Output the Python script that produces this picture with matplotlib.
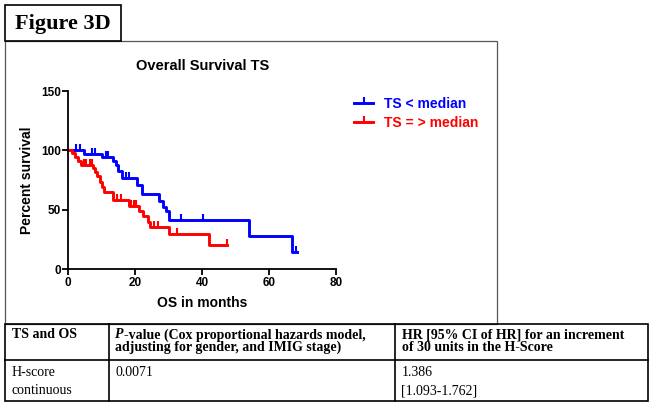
import numpy as np
import matplotlib
matplotlib.use('Agg')
import matplotlib.pyplot as plt
from matplotlib.lines import Line2D
from matplotlib.patches import Rectangle

# Kaplan-Meier steps (months, percent surviving)
blue_time = [0, 4.6, 10.1, 13.3, 14.3, 14.9, 16.0, 20.4, 21.9, 27.0, 28.2, 29.2, 30.0, 54.0, 66.8, 68.3]
blue_surv = [100, 97, 94, 91, 87.5, 83, 77, 70.5, 63, 57, 52.5, 48.5, 41.5, 27.5, 14, 14]
blue_censor = [2.2, 3.6, 7.2, 8.0, 11.2, 12.0, 17.2, 18.2, 33.7, 40.4, 68.0]

red_time = [0, 1.0, 2.0, 3.0, 3.8, 7.4, 8.0, 8.7, 9.4, 10.0, 10.7, 13.4, 18.2, 21.0, 22.2, 23.7, 24.3, 30.0, 41.9, 47.3]
red_surv = [100, 97.5, 94.5, 91, 88, 85.5, 82, 78, 73.5, 69.5, 64.5, 58.5, 53, 48.5, 44.5, 40, 35.5, 29.5, 20.5, 20.5]
red_censor = [4.7, 5.4, 6.4, 7.2, 14.7, 15.7, 18.7, 19.5, 20.2, 25.7, 26.7, 32.5, 47.3]

labels = ['TS < median', 'TS = > median']
colors = ['#0000ff', '#ff0000']

x_ticks = [0, 20, 40, 60, 80]
y_ticks = [0, 50, 100, 150]

# table contents
header = ['TS and OS', '-value (Cox proportional hazards model,', 'HR [95% CI of HR] for an increment']
header2 = ['', 'adjusting for gender, and IMIG stage)', 'of 30 units in the H-Score']
row1 = ['H-score', '0.0071', '1.386']
row2 = ['continuous', '', '[1.093-1.762]']

SANS = ['Liberation Sans', 'DejaVu Sans']
SERIF = ['Liberation Serif', 'DejaVu Serif']
W, H = 654, 407


def surv_at(times, surv, t):
    i = np.searchsorted(times, t, side='right') - 1
    return np.asarray(surv)[i]


fig = plt.figure(figsize=(W / 100, H / 100), dpi=100)

# background layer in pixel coordinates: frames and the table
bg = fig.add_axes([0, 0, 1, 1], zorder=0)
bg.set_xlim(0, W)
bg.set_ylim(H, 0)
bg.axis('off')

bg.add_patch(Rectangle((4.5, 41), 492.5, 283, fill=False, ec='#555555', lw=0.9))
bg.add_patch(Rectangle((5, 5), 116, 36, fill=False, ec='black', lw=1.2))
bg.text(63, 23.5, 'Figure 3D', family=SERIF, weight='bold', fontsize=16,
        ha='center', va='center')

# table grid
tl = dict(color='black', lw=1.2)
bg.add_patch(Rectangle((5, 324), 643, 77, fill=False, ec='black', lw=1.2))
bg.plot([5, 648], [360, 360], **tl)
bg.plot([109, 109], [324, 401], **tl)
bg.plot([395, 395], [324, 401], **tl)

fs = 10
hfont = dict(family=SERIF, weight='bold', fontsize=fs, va='baseline')
bfont = dict(family=SERIF, fontsize=fs, va='baseline')
bg.text(11.5, 338.5, header[0], **hfont)
p = bg.text(115, 338.5, 'P', style='italic', **hfont)
bg.annotate(header[1], xy=(1, 0), xycoords=p, va='bottom',
            family=SERIF, weight='bold', fontsize=fs)
bg.text(115, 351, header2[1], **hfont)
bg.text(401.5, 338.5, header[2], **hfont)
bg.text(401.5, 351, header2[2], **hfont)

bg.text(11.5, 376.5, row1[0], **bfont)
bg.text(11.5, 394.5, row2[0], **bfont)
bg.text(115, 376.5, row1[1], **bfont)
bg.text(401.5, 376.5, row1[2], **bfont)
bg.text(401.5, 394.5, row2[2], **bfont)

# survival plot
ax = fig.add_axes([68.3 / W, 1 - 269 / H, (336 - 68.3) / W, (269 - 91) / H], zorder=1)
ax.patch.set_visible(False)

series = [(blue_time, blue_surv, blue_censor), (red_time, red_surv, red_censor)]
handles = []
for (t, s, c), col, lab in zip(series, colors, labels):
    ax.step(t, s, where='post', color=col, lw=2.1, clip_on=False)
    ax.plot(c, surv_at(t, s, c), ls='none', marker=2, ms=4.5, mew=1.5,
            color=col, clip_on=False)
    handles.append(Line2D([], [], color=col, lw=2.1, marker=2, ms=4.5, mew=1.5))

ax.set_xlim(0, 80)
ax.set_ylim(0, 150)
ax.set_xticks(x_ticks)
ax.set_yticks(y_ticks)
for side in ['top', 'right']:
    ax.spines[side].set_visible(False)
for side in ['left', 'bottom']:
    ax.spines[side].set_linewidth(1.3)
ax.tick_params(direction='out', length=4, width=1.3, pad=1.5, labelsize=8.5)
for lbl in ax.get_xticklabels() + ax.get_yticklabels():
    lbl.set_family(SANS)
    lbl.set_weight('bold')

ax.set_title('Overall Survival TS', family=SANS, weight='bold', fontsize=10.5, pad=15)
ax.set_xlabel('OS in months', family=SANS, weight='bold', fontsize=10, labelpad=5)
ax.set_ylabel('Percent survival', family=SANS, weight='bold', fontsize=10, labelpad=5)

leg = ax.legend(handles, labels, loc='upper left',
                bbox_to_anchor=(354 / W, 1 - 97 / H), bbox_transform=fig.transFigure,
                frameon=False, borderpad=0, borderaxespad=0, handlelength=1.4,
                handletextpad=0.75, labelspacing=0.38,
                prop=dict(family=SANS, weight='bold', size=10))
for txt, col in zip(leg.get_texts(), colors):
    txt.set_color(col)

fig.savefig('out.png', dpi=100)
